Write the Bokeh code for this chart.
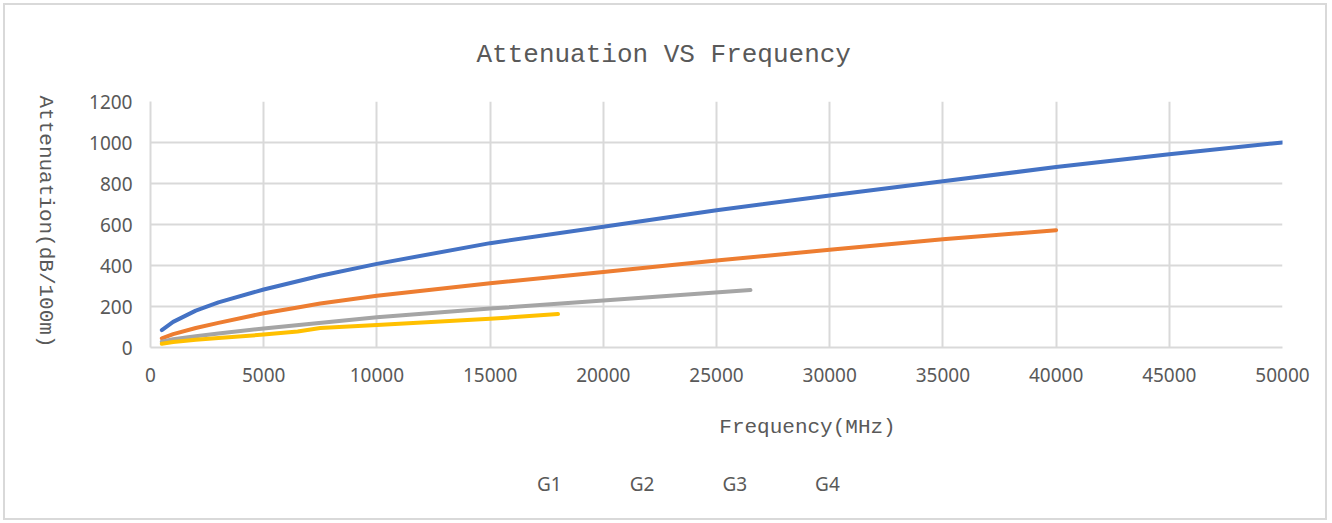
import math
from bokeh.plotting import figure
from bokeh.layouts import column
from bokeh.models import Legend, LegendItem, Range1d, FixedTicker, LinearAxis, Label
from bokeh.embed import file_html
from bokeh.resources import INLINE

# ---- data ----
g1_freq = [500, 1000, 2000, 3000, 5000, 7500, 10000, 15000, 20000, 25000, 30000, 35000, 40000, 45000, 50000]
g1_att = [85, 125, 180, 220, 283, 350, 408, 509, 589, 670, 741, 811, 880, 943, 1000]

g2_freq = [500, 1000, 2000, 3000, 5000, 6500, 7500, 10000, 15000, 20000, 25000, 30000, 35000, 40000]
g2_att = [45, 65, 95, 120, 167, 195, 215, 252, 313, 368, 424, 477, 528, 572]

g3_freq = [500, 1000, 2000, 3000, 5000, 10000, 15000, 20000, 26500]
g3_att = [28, 40, 55, 68, 93, 147, 190, 229, 280]

g4_freq = [500, 1000, 2000, 3000, 5000, 6500, 7500, 10000, 13000, 15000, 18000]
g4_att = [18, 27, 38, 46, 63, 78, 95, 110, 128, 140, 163]

series_names = ["G1", "G2", "G3", "G4"]
x_ticks = [0, 5000, 10000, 15000, 20000, 25000, 30000, 35000, 40000, 45000, 50000]
y_ticks = [0, 200, 400, 600, 800, 1000, 1200]

title_text = "Attenuation VS Frequency"
x_label_text = "Frequency(MHz)"
y_label_text = "Attenuation(dB/100m)"

colors = ["#4472C4", "#ED7D31", "#A5A5A5", "#FFC000"]
GRID = "#d9d9d9"
TXT = "#595959"
SERIF_MONO = "Liberation Mono"
SANS = "Noto Sans"

# ---------------- main plot ----------------
p = figure(frame_width=1132, frame_height=246,
           min_border_left=145, min_border_right=43,
           min_border_top=95, min_border_bottom=54,
           x_range=Range1d(0, 50000), y_range=Range1d(0, 1200),
           output_backend="svg", toolbar_location=None)
p.outline_line_color = None
p.background_fill_color = "white"
p.border_fill_color = "white"

p.title.text = title_text
p.title.align = "left"
p.title.offset = 326
p.title.standoff = 64
p.title.text_font = SERIF_MONO
p.title.text_font_size = "26px"
p.title.text_font_style = "normal"
p.title.text_color = TXT

for ax, ticks in ((p.xaxis, x_ticks), (p.yaxis, y_ticks)):
    ax.ticker = FixedTicker(ticks=ticks)
    ax.major_tick_line_color = None
    ax.minor_tick_line_color = None
    ax.axis_line_color = GRID
    ax.axis_line_width = 2
    ax.major_label_text_font = SANS
    ax.major_label_text_font_size = "19px"
    ax.major_label_text_color = TXT
p.xaxis.major_label_standoff = 14
p.yaxis.major_label_standoff = 12

# label-only axis so that the vertical label reads top-to-bottom
ylab_axis = LinearAxis(ticker=FixedTicker(ticks=[]),
                       axis_line_color=None, major_tick_line_color=None,
                       minor_tick_line_color=None,
                       axis_label=y_label_text,
                       axis_label_orientation=-math.pi / 2,
                       axis_label_text_font=SERIF_MONO,
                       axis_label_text_font_size="21px",
                       axis_label_text_font_style="normal",
                       axis_label_text_color=TXT,
                       axis_label_standoff=41)
if "axis_label_align" in LinearAxis.properties():
    for v in ("start", "left", "bottom"):
        try:
            ylab_axis.axis_label_align = v
            break
        except Exception:
            pass
p.add_layout(ylab_axis, "left")

p.xgrid.ticker = FixedTicker(ticks=x_ticks)
p.ygrid.ticker = FixedTicker(ticks=y_ticks)
for g in (p.xgrid, p.ygrid):
    g.grid_line_color = GRID
    g.grid_line_width = 2

series = ((g1_freq, g1_att), (g2_freq, g2_att), (g3_freq, g3_att), (g4_freq, g4_att))
for (xs, ys), c in zip(series, colors):
    p.line(xs, ys, line_color=c, line_width=4, line_cap="round", line_join="round")

# ---------------- lower strip: x-axis title and legend ----------------
STRIP_W, STRIP_H = 1320, 117
q = figure(frame_width=STRIP_W, frame_height=STRIP_H,
           min_border_left=0, min_border_right=0, min_border_top=0, min_border_bottom=0,
           x_range=Range1d(0, STRIP_W), y_range=Range1d(0, STRIP_H),
           x_axis_type=None, y_axis_type=None,
           output_backend="svg", toolbar_location=None)
q.outline_line_color = None
q.background_fill_color = "white"
q.border_fill_color = "white"
q.grid.visible = False

q.add_layout(Label(x=657, y=91, text=x_label_text, text_font=SERIF_MONO,
                   text_font_size="21px", text_color=TXT,
                   text_align="center", text_baseline="middle"))

legend_renderers = [q.line(x=[], y=[], line_color=c, line_width=4, line_cap="round")
                    for c in colors]
legend = Legend(items=[LegendItem(label=n, renderers=[r])
                       for n, r in zip(series_names, legend_renderers)],
                orientation="horizontal", location=(470, 21),
                glyph_width=55, glyph_height=20, label_height=20,
                label_standoff=7, spacing=6, padding=0, margin=0,
                border_line_color=None, background_fill_alpha=0,
                label_text_font=SANS, label_text_font_size="19px",
                label_text_color=TXT)
q.add_layout(legend, "center")

layout = column(p, q, spacing=0,
                styles={"border": "2px solid #d9d9d9", "margin": "3px"})

open("out.html", "w").write(file_html(layout, INLINE))
